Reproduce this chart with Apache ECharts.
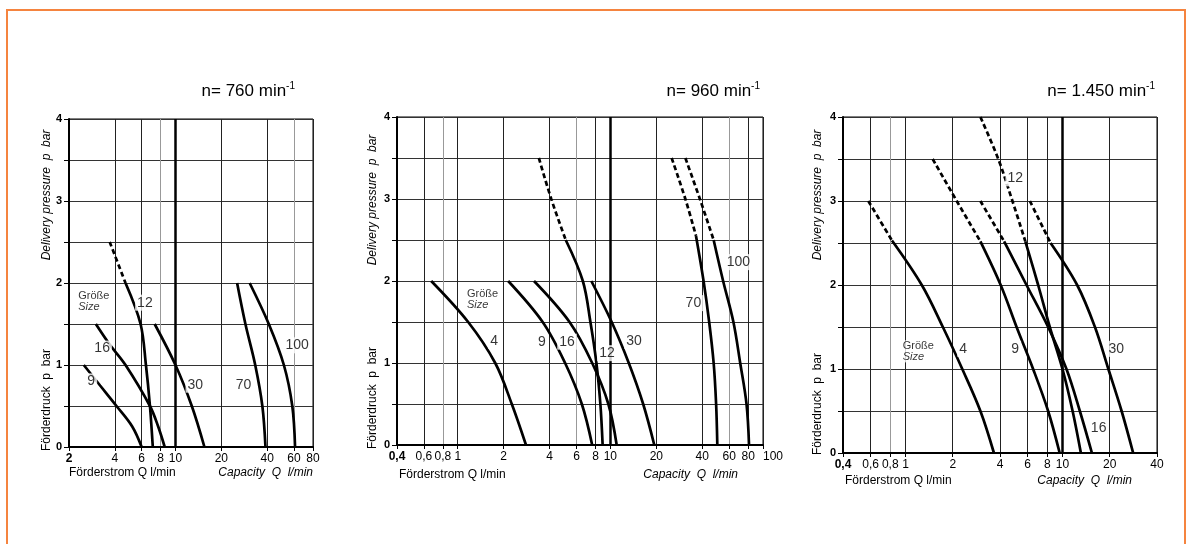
<!DOCTYPE html>
<html>
<head>
<meta charset="utf-8">
<script src="https://cdn.jsdelivr.net/npm/echarts@6/dist/echarts.min.js"></script>
<style>
  html, body { margin: 0; padding: 0; background: #fff; }
  #chart { width: 1189px; height: 544px; }
</style>
</head>
<body>
<div id="chart"></div>
<script>
// pump curves, points are [Q l/min, p bar]

// n = 760 min-1
var n760_9 = [[2.5, 1.0], [3.2, 0.75], [4.1, 0.5], [5.2, 0.25], [6.0, 0]];
var n760_16 = [[3.0, 1.5], [3.7, 1.25], [4.7, 1.0], [6.8, 0.5], [7.7, 0.25], [8.5, 0]];
var n760_12_dash = [[3.7, 2.5], [4.7, 2.0]];
var n760_12 = [[4.7, 2.0], [5.9, 1.5], [6.4, 1.0], [6.8, 0.5], [7.1, 0]];
var n760_30 = [[7.3, 1.5], [10, 1.0], [12.8, 0.5], [15.5, 0]];
var n760_70 = [[25.4, 2.0], [28.8, 1.5], [33.4, 1.0], [37.2, 0.5], [39, 0]];
var n760_100 = [[30.7, 2.0], [41, 1.5], [51.5, 1.0], [58.5, 0.5], [61, 0]];

// n = 960 min-1
var n960_4 = [[0.67, 2.0], [1.17, 1.5], [1.76, 1.0], [2.26, 0.5], [2.8, 0]];
var n960_9 = [[2.14, 2.0], [3.6, 1.5], [5.05, 1.0], [6.5, 0.5], [7.6, 0]];
var n960_16 = [[3.16, 2.0], [5.4, 1.5], [7.6, 1.0], [9.7, 0.5], [11, 0]];
var n960_12_dash = [[3.4, 3.5], [4.1, 3.0], [5.1, 2.5]];
var n960_12 = [[5.1, 2.5], [6.6, 2.0], [7.4, 1.5], [8.1, 1.0], [8.6, 0.5], [8.9, 0]];
var n960_30 = [[7.5, 2.0], [10.2, 1.5], [13.2, 1.0], [16.4, 0.5], [19.4, 0]];
var n960_70_dash = [[25.2, 3.5], [31, 3.0], [36.4, 2.55]];
var n960_70 = [[36.4, 2.55], [40.8, 2.0], [44.4, 1.5], [47.5, 1.0], [49.3, 0.5], [50.2, 0]];
var n960_100_dash = [[31, 3.5], [38.6, 3.0], [47.5, 2.5]];
var n960_100 = [[47.5, 2.5], [54.8, 2.0], [64, 1.5], [70.9, 1.0], [78, 0.5], [81, 0]];

// n = 1.450 min-1
var n1450_4_dash = [[0.58, 3.0], [0.82, 2.53]];
var n1450_4 = [[0.82, 2.53], [1.27, 2.0], [1.73, 1.5], [2.3, 1.0], [3.0, 0.5], [3.66, 0]];
var n1450_9_dash = [[1.49, 3.5], [2.12, 3.0], [3.0, 2.52]];
var n1450_9 = [[3.0, 2.52], [4.04, 2.0], [5.1, 1.5], [6.5, 1.0], [8.1, 0.5], [9.6, 0]];
var n1450_16_dash = [[3.0, 3.0], [4.25, 2.52]];
var n1450_16 = [[4.25, 2.52], [5.9, 2.0], [8.1, 1.5], [10.6, 1.0], [12.9, 0.5], [15.4, 0]];
var n1450_12_dash = [[3.0, 4.0], [3.9, 3.5], [4.8, 3.0], [5.8, 2.52]];
var n1450_12 = [[5.8, 2.52], [7.0, 2.0], [8.3, 1.5], [10, 1.0], [11.6, 0.5], [13.1, 0]];
var n1450_30_dash = [[6.2, 3.0], [8.4, 2.5]];
var n1450_30 = [[8.4, 2.5], [12.4, 2.0], [16.1, 1.5], [19.6, 1.0], [23.8, 0.5], [28.2, 0]];

// size labels [Q, p, text]
var labels760 = [[6.3, 1.76, '12'], [3.3, 1.2, '16'], [2.8, 0.8, '9'], [13.5, 0.76, '30'], [28, 0.76, '70'], [63, 1.24, '100']];
var labels960 = [[1.73, 1.27, '4'], [3.56, 1.26, '9'], [5.2, 1.26, '16'], [9.5, 1.12, '12'], [14.3, 1.27, '30'], [35, 1.73, '70'], [69, 2.23, '100']];
var labels1450 = [[2.33, 1.24, '4'], [5.0, 1.24, '9'], [5.0, 3.27, '12'], [22, 1.24, '30'], [17, 0.3, '16']];
var sizeTag760 = [2.3, 1.78];
var sizeTag960 = [1.15, 1.78];
var sizeTag1450 = [0.96, 1.21];

// axis ticks
var ticks760 = [2, 4, 6, 8, 10, 20, 40, 60, 80];
var ticks960 = [0.4, 0.6, 0.8, 1, 2, 4, 6, 8, 10, 20, 40, 60, 80, 100];
var ticks1450 = [0.4, 0.6, 0.8, 1, 2, 4, 6, 8, 10, 20, 40];
var titles = ['n= 760 min', 'n= 960 min', 'n= 1.450 min'];

var FONT = 'Liberation Sans, Arial, sans-serif';

function xAxisFor (gi, ticks, colors, maxAlign) {
  return {
    type: 'log',
    logBase: 10,
    gridIndex: gi,
    min: ticks[0] * 0.9999,
    max: ticks[ticks.length - 1] * 1.0001,
    axisLine: { show: true, onZero: false, lineStyle: { color: '#000', width: 2 } },
    axisTick: { show: true, customValues: ticks, length: 4, lineStyle: { color: '#000' } },
    axisLabel: {
      customValues: ticks,
      hideOverlap: false,
      showMinLabel: true,
      showMaxLabel: true,
      alignMaxLabel: maxAlign || 'center',
      color: '#000',
      fontSize: 12,
      fontFamily: FONT,
      margin: 6,
      formatter: function (v) {
        var s = String(+Number(v).toPrecision(6)).replace('.', ',');
        return Math.abs(v - ticks[0]) < 1e-9 ? '{b|' + s + '}' : s;
      },
      rich: { b: { fontWeight: 'bold', fontSize: 12, fontFamily: FONT, color: '#000' } }
    },
    splitLine: { show: true, lineStyle: { color: colors, width: 1 } }
  };
}

function yAxisFor (gi) {
  return {
    type: 'value',
    gridIndex: gi,
    min: 0,
    max: 4,
    interval: 0.5,
    axisLine: { show: true, lineStyle: { color: '#000', width: 2 } },
    axisTick: { show: true, length: 5, lineStyle: { color: '#000' } },
    axisLabel: {
      color: '#000',
      fontSize: 11,
      fontWeight: 'bold',
      fontFamily: FONT,
      margin: 7,
      formatter: function (v) { return v % 1 === 0 ? String(v) : ''; }
    },
    splitLine: { show: true, lineStyle: { color: '#333', width: 1 } }
  };
}

function curve (gi, pts, dashed) {
  return {
    type: 'line',
    xAxisIndex: gi,
    yAxisIndex: gi,
    data: pts,
    smooth: 0.35,
    symbol: 'none',
    silent: true,
    z: 4,
    lineStyle: { color: '#000', width: 2.7, type: dashed ? [5, 3] : 'solid' }
  };
}

function tenLine (gi) {
  return {
    type: 'line',
    xAxisIndex: gi,
    yAxisIndex: gi,
    data: [],
    silent: true,
    markLine: {
      silent: true,
      symbol: 'none',
      label: { show: false },
      lineStyle: { color: '#000', width: 2.5, type: 'solid' },
      data: [{ xAxis: 10 }]
    }
  };
}

function labelSeries (gi, items, tag) {
  return [{
    type: 'scatter',
    xAxisIndex: gi,
    yAxisIndex: gi,
    symbolSize: 0,
    itemStyle: { color: '#000' },
    silent: true,
    z: 6,
    data: items,
    label: {
      show: true,
      position: 'inside',
      formatter: function (p) { return p.data[2]; },
      color: '#000',
      textBorderWidth: 0,
      textBorderColor: 'transparent',
      fontSize: 14,
      fontFamily: FONT,
      backgroundColor: '#fff',
      padding: [1, 2]
    }
  }, {
    type: 'scatter',
    xAxisIndex: gi,
    yAxisIndex: gi,
    symbolSize: 0,
    itemStyle: { color: '#000' },
    silent: true,
    z: 6,
    data: [tag],
    label: {
      show: true,
      position: 'right',
      distance: 0,
      color: '#000',
      textBorderWidth: 0,
      textBorderColor: 'transparent',
      formatter: '{g|Größe}\n{s|Size}',
      backgroundColor: '#fff',
      rich: {
        g: { fontSize: 11, fontFamily: FONT, color: '#000', lineHeight: 11, textBorderWidth: 0 },
        s: { fontSize: 11, fontFamily: FONT, color: '#000', fontStyle: 'italic', lineHeight: 11, textBorderWidth: 0 }
      }
    }
  }];
}

function titleFor (i, right) {
  return {
    text: '{a|' + titles[i] + '}{s|-1}',
    right: right,
    top: 76,
    textStyle: {
      fontWeight: 'normal',
      rich: {
        a: { fontSize: 17, fontFamily: FONT, color: '#000', fontWeight: 'normal', lineHeight: 20 },
        s: { fontSize: 10, fontFamily: FONT, color: '#000', fontWeight: 'normal', lineHeight: 10, verticalAlign: 'top' }
      }
    }
  };
}

function axisNames (yx, yDel, yFoe, xLeft, xRight, xy) {
  return [
    { type: 'text', x: yx, y: yDel, rotation: Math.PI / 2,
      style: { text: 'Delivery pressure  p  bar', font: 'italic 12px ' + FONT, fill: '#000', textAlign: 'center', textVerticalAlign: 'middle' } },
    { type: 'text', x: yx, y: yFoe, rotation: Math.PI / 2,
      style: { text: 'Förderdruck  p  bar', font: '12px ' + FONT, fill: '#000', textAlign: 'center', textVerticalAlign: 'middle' } },
    { type: 'text', x: xLeft, y: xy,
      style: { text: 'Förderstrom Q l/min', font: '12px ' + FONT, fill: '#000', textAlign: 'left', textVerticalAlign: 'middle' } },
    { type: 'text', x: xRight, y: xy,
      style: { text: 'Capacity  Q  l/min', font: 'italic 12px ' + FONT, fill: '#000', textAlign: 'right', textVerticalAlign: 'middle' } }
  ];
}

var G = '#999', K = '#222';

var series = [].concat(
  tenLine(0),
  curve(0, n760_9), curve(0, n760_16), curve(0, n760_12_dash, true), curve(0, n760_12),
  curve(0, n760_30), curve(0, n760_70), curve(0, n760_100),
  labelSeries(0, labels760, sizeTag760),

  tenLine(1),
  curve(1, n960_4), curve(1, n960_9), curve(1, n960_16),
  curve(1, n960_12_dash, true), curve(1, n960_12), curve(1, n960_30),
  curve(1, n960_70_dash, true), curve(1, n960_70),
  curve(1, n960_100_dash, true), curve(1, n960_100),
  labelSeries(1, labels960, sizeTag960),

  tenLine(2),
  curve(2, n1450_4_dash, true), curve(2, n1450_4),
  curve(2, n1450_9_dash, true), curve(2, n1450_9),
  curve(2, n1450_16_dash, true), curve(2, n1450_16),
  curve(2, n1450_12_dash, true), curve(2, n1450_12),
  curve(2, n1450_30_dash, true), curve(2, n1450_30),
  labelSeries(2, labels1450, sizeTag1450)
);

var option = {
  animation: false,
  backgroundColor: '#fff',
  title: [titleFor(0, 889), titleFor(1, 424), titleFor(2, 29)],
  grid: [
    { left: 69, top: 119, width: 244, height: 328, show: true, borderColor: '#000', borderWidth: 1, backgroundColor: '#fff' },
    { left: 397, top: 117, width: 366, height: 328, show: true, borderColor: '#000', borderWidth: 1, backgroundColor: '#fff' },
    { left: 843, top: 117, width: 314, height: 336, show: true, borderColor: '#000', borderWidth: 1, backgroundColor: '#fff' }
  ],
  xAxis: [
    xAxisFor(0, ticks760, [K, K, K, G, K, K, K, G, K]),
    xAxisFor(1, ticks960, [K, K, G, K, K, K, G, K, K, K, K, G, K, K], 'left'),
    xAxisFor(2, ticks1450, [K, K, G, K, K, K, K, K, K, K, K])
  ],
  yAxis: [yAxisFor(0), yAxisFor(1), yAxisFor(2)],
  series: series,
  graphic: [].concat(
    [{ type: 'rect', silent: true, shape: { x: 7, y: 10, width: 1178, height: 560 },
       style: { fill: 'none', stroke: '#f5843f', lineWidth: 2 } }],
    axisNames(47, 195, 400, 69, 313, 473),
    axisNames(373, 200, 398, 399, 738, 475),
    axisNames(818, 195, 404, 845, 1132, 481)
  )
};

var chart = echarts.init(document.getElementById('chart'));
chart.setOption(option);
</script>
</body>
</html>
